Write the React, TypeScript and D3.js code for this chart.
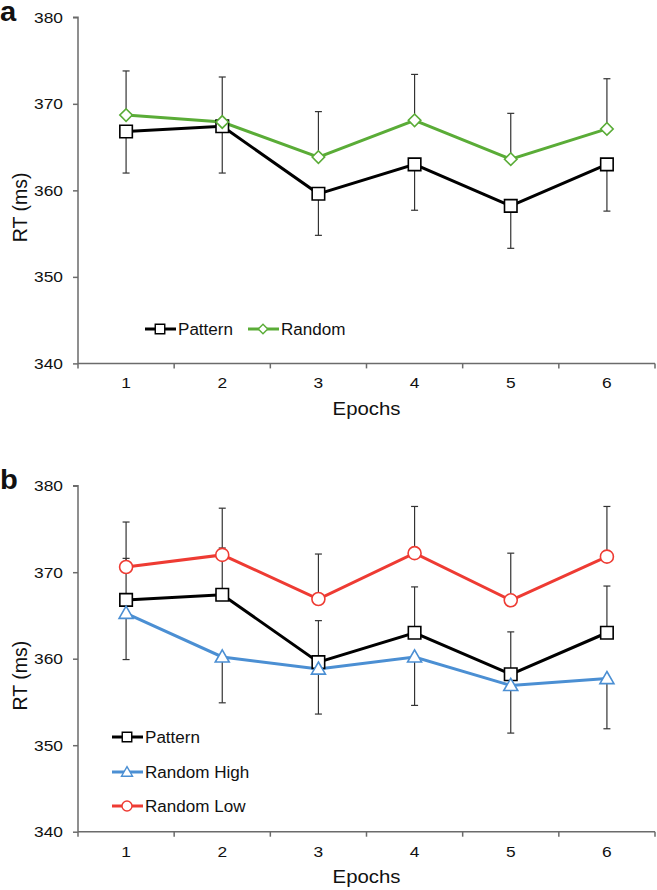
import React, { useEffect, useRef } from "react";
import * as d3 from "d3";

const epochs = ["1", "2", "3", "4", "5", "6"];
const yTicks = [340, 350, 360, 370, 380];

const patternMean = [366.8, 367.4, 359.6, 363.0, 358.2, 363.0];
const patternErr = [4.8, 5.4, 4.8, 5.3, 4.9, 5.4];
const randomMean = [368.7, 367.9, 363.85, 368.1, 363.6, 367.1];
const randomErr = [5.1, 5.2, 5.25, 5.3, 5.3, 5.8];
const randomHighMean = [365.25, 360.2, 358.8, 360.2, 356.9, 357.7];
const randomHighErr = [5.35, 5.3, 5.2, 5.6, 5.5, 5.8];
const randomLowMean = [370.6, 372.0, 366.9, 372.2, 366.75, 371.8];
const randomLowErr = [5.2, 5.4, 5.2, 5.4, 5.45, 5.8];

const FONT = "Liberation Sans, Arial, sans-serif";

interface Series {
  name: string;
  mean: number[];
  err: number[];
  dir: 1 | -1; // which way the error bar goes
  color: string;
  marker: "square" | "diamond" | "triangle" | "circle";
}

interface PanelCfg {
  label: string;
  top: number; // pixel of 380
  bottom: number; // pixel of 340
  series: Series[];
  legend: { x: number; y: number }[];
}

const markerPath = (kind: string, s: number) => {
  if (kind === "square") return d3.symbol(d3.symbolSquare, s * s)()!;
  if (kind === "diamond") return d3.symbol(d3.symbolSquare, (s * s) / 2)()!;
  if (kind === "triangle")
    return d3.symbol(d3.symbolTriangle, (Math.sqrt(3) / 4) * s * s)()!;
  return d3.symbol(d3.symbolCircle, (Math.PI * s * s) / 4)()!;
};

const App = () => {
  const ref = useRef<SVGSVGElement>(null);

  useEffect(() => {
    const svg = d3.select(ref.current);
    svg.selectAll("*").remove();

    const left = 78;
    const right = 655;
    const x = d3.scaleBand().domain(epochs).range([left, right]);

    const text = (
      g: any,
      s: string,
      tx: number,
      ty: number,
      size: number,
      anchor: string,
      sx = 1.12,
      weight = "normal"
    ) =>
      g
        .append("text")
        .attr("transform", `translate(${tx},${ty}) scale(${sx},1)`)
        .attr("text-anchor", anchor)
        .attr("font-family", FONT)
        .attr("font-size", size)
        .attr("font-weight", weight)
        .attr("fill", "#111")
        .text(s);

    const panels: PanelCfg[] = [
      {
        label: "a",
        top: 17.3,
        bottom: 363.4,
        series: [
          { name: "Pattern", mean: patternMean, err: patternErr, dir: -1, color: "#000", marker: "square" },
          { name: "Random", mean: randomMean, err: randomErr, dir: 1, color: "#5aac37", marker: "diamond" },
        ],
        legend: [
          { x: 145, y: 329 },
          { x: 248, y: 329 },
        ],
      },
      {
        label: "b",
        top: 485.7,
        bottom: 831.7,
        series: [
          { name: "Pattern", mean: patternMean, err: patternErr, dir: 1, color: "#000", marker: "square" },
          { name: "Random High", mean: randomHighMean, err: randomHighErr, dir: -1, color: "#4b8fd3", marker: "triangle" },
          { name: "Random Low", mean: randomLowMean, err: randomLowErr, dir: 1, color: "#ee3b33", marker: "circle" },
        ],
        legend: [
          { x: 112, y: 737 },
          { x: 112, y: 772 },
          { x: 112, y: 806 },
        ],
      },
    ];

    panels.forEach((p) => {
      const y = d3.scaleLinear().domain([340, 380]).range([p.bottom, p.top]);
      const g = svg.append("g");

      // panel letter
      text(g, p.label, 0, p.top + 3.5, 27, "start", 1.08, "bold");

      // y axis
      const yAxis = g
        .append("g")
        .attr("transform", `translate(${left},0)`)
        .call(d3.axisLeft(y).tickValues(yTicks).tickSize(5).tickFormat(() => ""));
      yAxis.selectAll("path,line").attr("stroke", "#6b6b6b").attr("stroke-width", 1.5);
      yAxis.select(".domain").attr("d", `M-5,${y(380)}H0V${y(340)}`);
      yTicks.forEach((t) => text(g, String(t), 63, y(t) + 5.5, 15.5, "end"));

      // x axis
      const xAxis = g
        .append("g")
        .attr("transform", `translate(0,${y(340)})`)
        .call(d3.axisBottom(x).tickSize(0).tickFormat(() => ""));
      xAxis.select(".domain").attr("stroke", "#6b6b6b").attr("stroke-width", 1.5).attr("d", `M${left},0H${right}`);
      xAxis.selectAll(".tick").remove();
      const edges = epochs.map((e) => x(e)!).concat([right]);
      g.selectAll(null)
        .data(edges)
        .enter()
        .append("line")
        .attr("x1", (d) => d)
        .attr("x2", (d) => d)
        .attr("y1", y(340))
        .attr("y2", y(340) + 5)
        .attr("stroke", "#6b6b6b")
        .attr("stroke-width", 1.5);
      epochs.forEach((e) => text(g, e, x(e)! + x.bandwidth() / 2, y(340) + 25, 15.5, "middle"));
      text(g, "Epochs", (left + right) / 2, y(340) + 51.5, 18.5, "middle", 1.1);

      // y label
      g.append("text")
        .attr("transform", `translate(27,${(p.top + p.bottom) / 2 + 17}) rotate(-90)`)
        .attr("text-anchor", "middle")
        .attr("font-family", FONT)
        .attr("font-size", 19.5)
        .attr("fill", "#111")
        .text("RT (ms)");

      const cx = (i: number) => x(epochs[i])! + x.bandwidth() / 2;

      // error bars
      p.series.forEach((s) => {
        s.mean.forEach((m, i) => {
          const end = y(m + s.dir * s.err[i]);
          g.append("line")
            .attr("x1", cx(i))
            .attr("x2", cx(i))
            .attr("y1", y(m))
            .attr("y2", end)
            .attr("stroke", "#333")
            .attr("stroke-width", 1.2);
          g.append("line")
            .attr("x1", cx(i) - 3.5)
            .attr("x2", cx(i) + 3.5)
            .attr("y1", end)
            .attr("y2", end)
            .attr("stroke", "#333")
            .attr("stroke-width", 1.2);
        });
      });

      // lines
      const line = d3
        .line<number>()
        .x((_, i) => cx(i))
        .y((d) => y(d));
      p.series.forEach((s) => {
        g.append("path")
          .attr("d", line(s.mean))
          .attr("fill", "none")
          .attr("stroke", s.color)
          .attr("stroke-width", 3);
      });

      // markers
      p.series.forEach((s) => {
        const size = s.marker === "circle" ? 13 : s.marker === "triangle" ? 14 : 12.5;
        s.mean.forEach((m, i) => {
          g.append("path")
            .attr("d", markerPath(s.marker, size))
            .attr(
              "transform",
              `translate(${cx(i)},${y(m) + (s.marker === "triangle" ? 1 : 0)})${s.marker === "diamond" ? " rotate(45)" : ""}`
            )
            .attr("fill", "#fff")
            .attr("stroke", s.color)
            .attr("stroke-width", 1.6);
        });
      });

      // legend
      p.series.forEach((s, k) => {
        const pos = p.legend[k];
        const lg = g.append("g").attr("transform", `translate(${pos.x},${pos.y})`);
        lg.append("line")
          .attr("x1", 0)
          .attr("x2", 31)
          .attr("y1", 0)
          .attr("y2", 0)
          .attr("stroke", s.color)
          .attr("stroke-width", 3);
        const size = s.marker === "circle" ? 10 : s.marker === "triangle" ? 11 : 9.5;
        lg.append("path")
          .attr("d", markerPath(s.marker, size))
          .attr(
            "transform",
            `translate(15,${s.marker === "triangle" ? 1 : 0})${s.marker === "diamond" ? " rotate(45)" : ""}`
          )
          .attr("fill", "#fff")
          .attr("stroke", s.color)
          .attr("stroke-width", 1.4);
        text(lg, s.name, 33, 6, 15.8, "start", 1.08);
      });
    });
  }, []);

  return (
    <svg
      ref={ref}
      width={657}
      height={890}
      style={{ position: "absolute", left: 0, top: 0, background: "#fff" }}
    />
  );
};

export default App;
